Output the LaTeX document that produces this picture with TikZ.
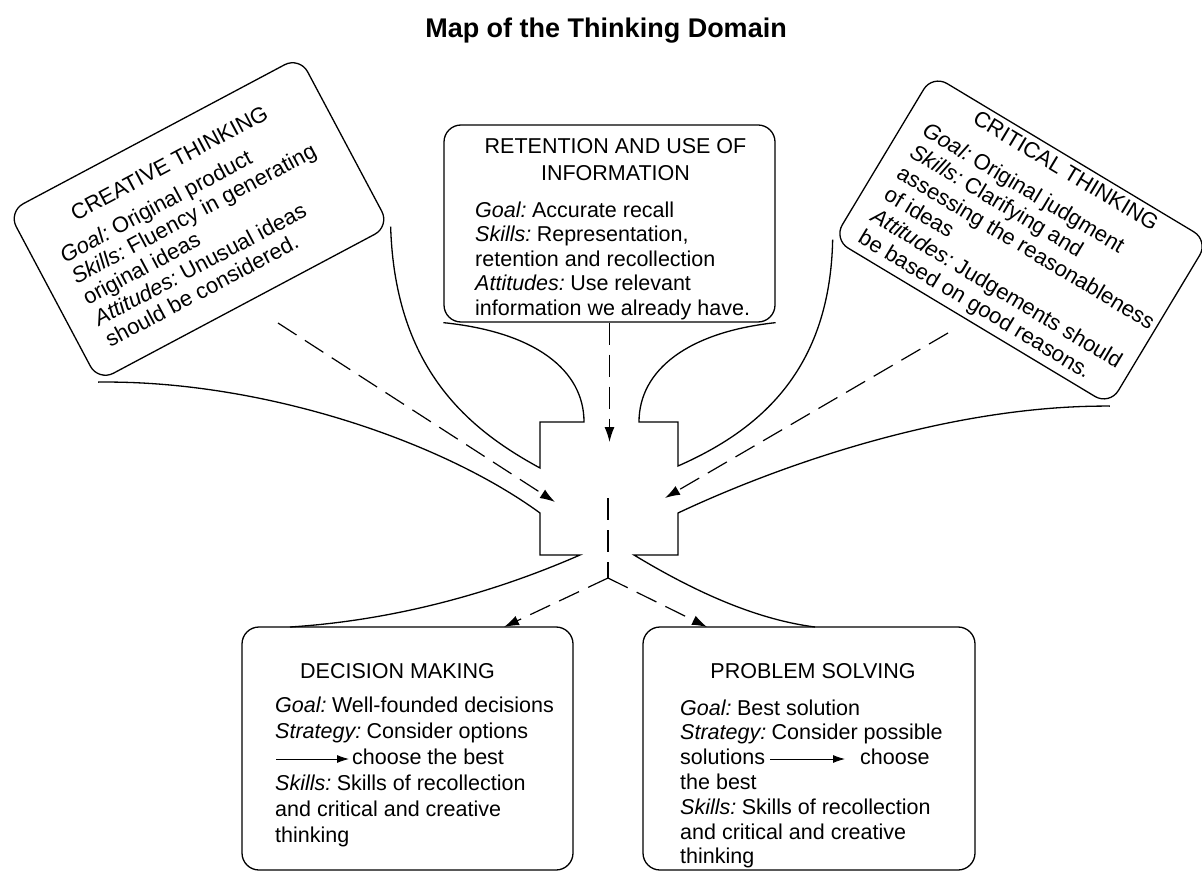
\documentclass[tikz,border=0pt]{standalone}
\usepackage{fontspec}
\setmainfont{Liberation Sans}
\usetikzlibrary{arrows.meta}

\newcommand{\boxfont}{\fontsize{21.5}{24.5}\selectfont}
\newcommand{\tagit}[1]{{\itshape #1}\kern-2.5pt\relax}

\begin{document}
\begin{tikzpicture}[x=1pt, y=-1pt,
  panel/.style={draw, line width=1.3pt, rounded corners=17pt, inner sep=0pt},
  outline/.style={line width=1.3pt},
  flowline/.style={line width=1.2pt, dash pattern=on 22pt off 10pt},
  flow/.style={flowline, -{Latex[length=15pt, width=10pt]}},
  textarrow/.style={line width=0.9pt, -{Latex[length=12pt, width=8pt]}},
  heading/.style={inner sep=0pt, anchor=base},
  body/.style={inner sep=0pt, anchor=north west, align=left},
]
\useasboundingbox (0,0) rectangle (1202,874);

% title
\node[heading, font=\bfseries\fontsize{27}{30}\selectfont] (title) at (606,38) {Map of the Thinking Domain};

% retention and use of information
\node[panel, minimum width=331pt, minimum height=197pt] (retention) at (609.5,223.5) {};
\node[inner sep=0pt, anchor=north, align=center, font=\fontsize{21.5}{27}\selectfont] (retention-title) at (615.5,138.5) {RETENTION AND USE OF\\INFORMATION};
\node[body, font=\boxfont] (retention-body) at (475,201.5) {\tagit{Goal:} Accurate recall\\ \tagit{Skills:} Representation,\\ retention and recollection\\ \tagit{Attitudes:} Use relevant\\ information we already have.};

% creative thinking (tilted)
\begin{scope}[shift={(199,219)}, rotate=28, transform shape]
  \node[panel, minimum width=330pt, minimum height=192pt] (creative) at (0,0) {};
  \node[heading, font=\fontsize{22}{24}\selectfont] (creative-title) at (0,-56) {CREATIVE THINKING};
  \node[body, font=\fontsize{22}{24}\selectfont] (creative-body) at (-139,-40) {\tagit{Goal:} Original product\\ \tagit{Skills:} Fluency in generating\\ original ideas\\ \tagit{Attitudes:} Unusual ideas\\ should be considered.};
\end{scope}

% critical thinking (tilted)
\begin{scope}[shift={(1021,240)}, rotate=-31, transform shape]
  \node[panel, minimum width=322pt, minimum height=192pt] (critical) at (0,0) {};
  \node[heading, font=\fontsize{22}{25}\selectfont] (critical-title) at (3,-75) {CRITICAL THINKING};
  \node[body, font=\fontsize{22}{25}\selectfont] (critical-body) at (-140,-55) {\tagit{Goal:} Original judgment\\ \tagit{Skills:} Clarifying and\\ assessing the reasonableness\\ of ideas\\ \tagit{Attitudes:} Judgements should\\ be based on good reasons.};
\end{scope}

% decision making
\node[panel, minimum width=331pt, minimum height=243pt] (decision) at (407.5,748.5) {};
\node[heading, font=\boxfont] (decision-title) at (397.5,678) {DECISION MAKING};
\node[body, font=\fontsize{21.5}{26}\selectfont] (decision-body) at (275,697) {\tagit{Goal:} Well-founded decisions\\ \tagit{Strategy:} Consider options\\ \hspace*{77pt}choose the best\\ \tagit{Skills:} Skills of recollection\\ and critical and creative\\ thinking};
\coordinate (dm-arrow-a) at (276,759);
\coordinate (dm-arrow-b) at (349,759);
\draw[textarrow] (dm-arrow-a) -- (dm-arrow-b);

% problem solving
\node[panel, minimum width=332pt, minimum height=243pt] (problem) at (809,748.5) {};
\node[heading, font=\boxfont] (problem-title) at (813,678) {PROBLEM SOLVING};
\node[body, font=\fontsize{21.5}{24.8}\selectfont] (problem-body) at (680,699.3) {\tagit{Goal:} Best solution\\ \tagit{Strategy:} Consider possible\\ \makebox[180pt][l]{solutions}choose\\ the best\\ \tagit{Skills:} Skills of recollection\\ and critical and creative\\ thinking};
\coordinate (ps-arrow-a) at (770,759);
\coordinate (ps-arrow-b) at (845,759);
\draw[textarrow] (ps-arrow-a) -- (ps-arrow-b);

% funnel outline
\coordinate (dm-join) at (290,627);
\coordinate (ps-join) at (815,627);
\draw[outline] (retention.south west) .. controls (535,332) and (584,370) .. (584,422)
  -- (540,422) -- (540,468) .. controls (470,430) and (395,370) .. (creative.south east);
\draw[outline] (creative.south west) .. controls (260,380) and (440,440) .. (540,513)
  -- (540,555) -- (580,555) .. controls (500,590) and (400,620) .. (dm-join);
\draw[outline] (retention.south east) .. controls (688,332) and (639,370) .. (639,422)
  -- (678,422) -- (678,466) .. controls (760,430) and (830,370) .. (critical.south west);
\draw[outline] (critical.south east) .. controls (950,405) and (780,465) .. (678,513)
  -- (678,555) -- (634,555) .. controls (700,595) and (760,620) .. (ps-join);

% dashed flows
\coordinate (creative-out) at (278,323);
\coordinate (creative-in) at (555,502);
\coordinate (critical-out) at (948,333);
\coordinate (critical-in) at (665,498);
\coordinate (retention-in) at (609.5,442);
\coordinate (hub) at (608,498);
\coordinate (split) at (608,578);
\coordinate (decision-in) at (504,627);
\coordinate (problem-in) at (707,627);
\draw[flow] (creative-out) -- (creative-in);
\draw[flow] (critical-out) -- (critical-in);
\draw[flow] (retention.south) -- (retention-in);
\draw[flowline] (hub) -- (split);
\draw[flow] (split) -- (decision-in);
\draw[flow] (split) -- (problem-in);
\end{tikzpicture}
\end{document}
